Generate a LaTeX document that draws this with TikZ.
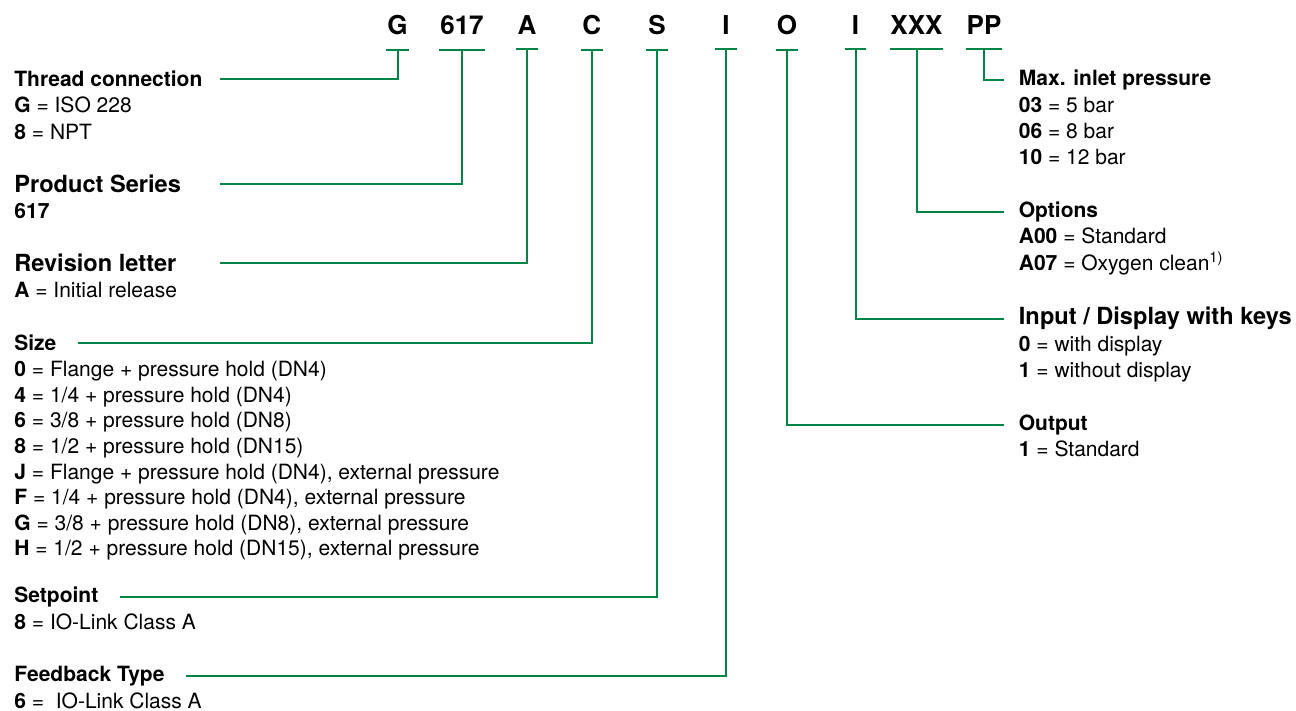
\documentclass[tikz,border=0pt]{standalone}
\usepackage{fontspec}
\setmainfont{TeX Gyre Heros}
\usetikzlibrary{positioning}
\definecolor{codegreen}{RGB}{0,133,72}
\tikzset{
  code/.style={font=\fontsize{13}{15}\selectfont\bfseries, anchor=base, inner xsep=0.25pt, inner ysep=7pt, minimum width=10.5pt},
  head/.style={font=\fontsize{10.5}{13}\selectfont\bfseries, anchor=base west, inner sep=0pt},
  bighead/.style={head, font=\fontsize{11.8}{14}\selectfont\bfseries},
  entry/.style={font=\fontsize{10.5}{13}\selectfont, anchor=base west, inner sep=0pt},
  link/.style={draw=codegreen, line width=1pt},
}
\begin{document}
\begin{tikzpicture}[x=0.5pt, y=-0.5pt]
  \useasboundingbox (0,0) rectangle (1296,711);
  % order code letters with their ticks
  \foreach \name/\x/\txt in {G/397.5/G, ser/462/617, rev/527/A, size/591.7/C, set/657/S, fb/726/I, out/787/O, inp/855.5/I, opt/916.5/XXX, pp/984/PP} {
    \node[code] (c-\name) at (\x,35) {\txt};
    \draw[link] (c-\name.south west) -- (c-\name.south east);
  }
  % left column
  \node[head] (thread) at (14,86.7) {Thread connection};
  \foreach \t [count=\k] in {{\textbf{G} = ISO 228},{\textbf{8} = NPT}}
    \node[entry] (thread-\k) at (14,86.7+26.3*\k) {\t};
  \node[bighead] (series) at (14,192.7) {Product Series};
  \node[entry] (series-1) at (14,218.7) {\textbf{617}};
  \node[bighead] (revision) at (14,272) {Revision letter};
  \node[entry] (revision-1) at (14,297.3) {\textbf{A} = Initial release};
  \node[head] (size) at (14,350.7) {Size};
  \foreach \t [count=\k] in {{\textbf{0} = Flange + pressure hold (DN4)},
      {\textbf{4} = 1/4 + pressure hold (DN4)},
      {\textbf{6} = 3/8 + pressure hold (DN8)},
      {\textbf{8} = 1/2 + pressure hold (DN15)},
      {\textbf{J} = Flange + pressure hold (DN4), external pressure},
      {\textbf{F} = 1/4 + pressure hold (DN4), external pressure},
      {\textbf{G} = 3/8 + pressure hold (DN8), external pressure},
      {\textbf{H} = 1/2 + pressure hold (DN15), external pressure}}
    \node[entry] (size-\k) at (14,351.1+25.6*\k) {\t};
  \node[head] (setpoint) at (14,602.7) {Setpoint};
  \node[entry] (setpoint-1) at (14,629.3) {\textbf{8} = IO-Link Class A};
  \node[head] (feedback) at (14,681.7) {Feedback Type};
  \node[entry] (feedback-1) at (14,708.3) {\textbf{6} = \ IO-Link Class A};
  % right column
  \node[head] (maxp) at (1018.5,86) {Max. inlet pressure};
  \foreach \t [count=\k] in {{\textbf{03} = 5 bar},{\textbf{06} = 8 bar},{\textbf{10} = 12 bar}}
    \node[entry] (maxp-\k) at (1018.5,86+26.3*\k) {\t};
  \node[head] (options) at (1018.5,217.3) {Options};
  \foreach \t [count=\k] in {{\textbf{A00} = Standard},{\textbf{A07} = Oxygen clean\textsuperscript{1)}}}
    \node[entry] (options-\k) at (1018.5,217.3+26.7*\k) {\t};
  \node[bighead] (input) at (1018.5,325) {Input / Display with keys};
  \foreach \t [count=\k] in {{\textbf{0} = with display},{\textbf{1} = without display}}
    \node[entry] (input-\k) at (1018.5,325+26.2*\k) {\t};
  \node[head] (output) at (1018.5,430) {Output};
  \node[entry] (output-1) at (1018.5,456.7) {\textbf{1} = Standard};
  % connectors
  \coordinate (lstart) at (220,0);
  \coordinate (rend) at (1004,0);
  \draw[link] (thread.east -| lstart) -| (c-G.south);
  \draw[link] (series.east -| lstart) -| (c-ser.south);
  \draw[link] (revision.east -| lstart) -| (c-rev.south);
  \draw[link] ([xshift=10.5pt]size.east) -| (c-size.south);
  \draw[link] ([xshift=10.5pt]setpoint.east) -| (c-set.south);
  \draw[link] ([xshift=10.5pt]feedback.east) -| (c-fb.south);
  \draw[link] (c-pp.south) |- (maxp.west -| rend);
  \draw[link] (c-opt.south) |- (options.west -| rend);
  \draw[link] (c-inp.south) |- (input.west -| rend);
  \draw[link] (c-out.south) |- (output.west -| rend);
\end{tikzpicture}
\end{document}
